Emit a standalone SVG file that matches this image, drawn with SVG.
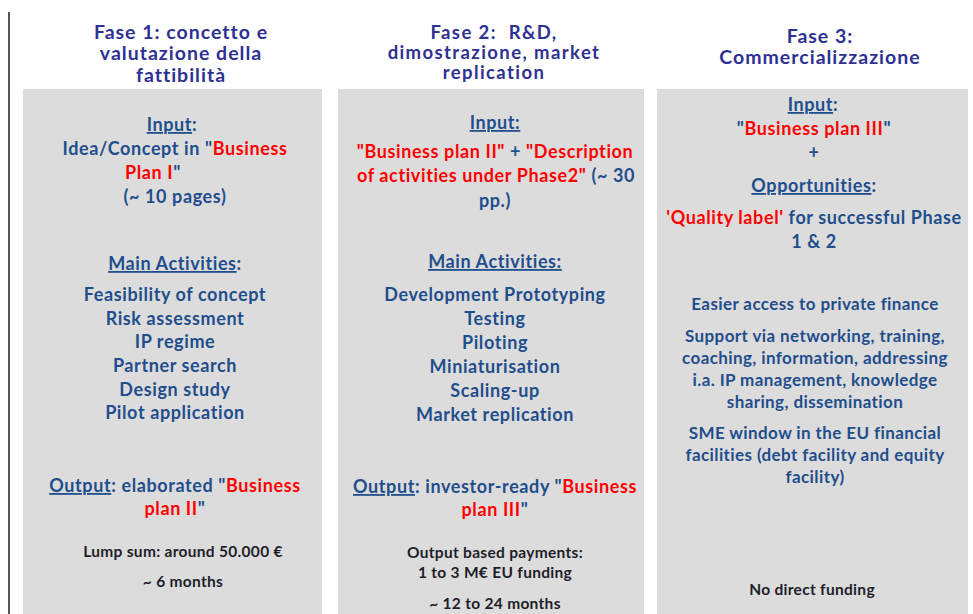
<svg xmlns="http://www.w3.org/2000/svg" width="973" height="614" viewBox="0 0 973 614">
<style>
.panel{fill:#dcdcdc}
.hd{font-family:Lato,"Liberation Sans",sans-serif;font-weight:700;font-size:19.5px;letter-spacing:1px;fill:#2e3192;text-anchor:middle}
.hd2{font-size:18.5px;letter-spacing:1.4px}
.b{font-family:Lato,"Liberation Sans",sans-serif;font-weight:700;font-size:18px;letter-spacing:0.6px;fill:#1f4e8c;text-anchor:middle}
.s{font-family:Lato,"Liberation Sans",sans-serif;font-weight:700;font-size:17px;letter-spacing:0.4px;fill:#1f4e8c;text-anchor:middle}
.k{font-family:Lato,"Liberation Sans",sans-serif;font-weight:700;font-size:15.5px;letter-spacing:0.3px;fill:#1e1e2a;text-anchor:middle}
.r{fill:#ff0000}
.u{text-decoration:underline}
</style>
<rect width="973" height="614" fill="#ffffff"/>
<line x1="9" y1="12" x2="9" y2="614" stroke="#555555" stroke-width="2"/>

<g id="phase1">
<rect class="panel" x="23" y="89" width="299" height="525"/>
<text class="hd" x="181" y="39">Fase 1: concetto e</text>
<text class="hd" x="181" y="60">valutazione della</text>
<text class="hd" x="181" y="82">fattibilità</text>
<text class="b" x="172" y="131"><tspan class="u">Input</tspan>:</text>
<text class="b" x="175" y="155">Idea/Concept in "<tspan class="r">Business</tspan></text>
<text class="b" x="125" y="179" style="text-anchor:start"><tspan class="r">Plan I</tspan>"</text>
<text class="b" x="175" y="203">(~ 10 pages)</text>
<text class="b" x="175" y="270"><tspan class="u">Main Activities</tspan>:</text>
<text class="b" x="175" y="301">Feasibility of concept</text>
<text class="b" x="175" y="325">Risk assessment</text>
<text class="b" x="175" y="348">IP regime</text>
<text class="b" x="175" y="372">Partner search</text>
<text class="b" x="175" y="396">Design study</text>
<text class="b" x="175" y="419">Pilot application</text>
<text class="b" x="175" y="492"><tspan class="u">Output</tspan>: elaborated "<tspan class="r">Business</tspan></text>
<text class="b" x="175" y="515"><tspan class="r">plan II</tspan>"</text>
<text class="k" x="183" y="557">Lump sum: around 50.000 €</text>
<text class="k" x="183" y="587">~ 6 months</text>
</g>

<g id="phase2">
<rect class="panel" x="338" y="89" width="306" height="525"/>
<text class="hd hd2" x="494" y="39" style="white-space:pre">Fase 2:  R&amp;D,</text>
<text class="hd hd2" x="494" y="59">dimostrazione, market</text>
<text class="hd hd2" x="494" y="79">replication</text>
<text class="b" x="495" y="129"><tspan class="u">Input:</tspan></text>
<text class="b" x="495" y="158"><tspan class="r">"Business plan II"</tspan> + <tspan class="r">"Description</tspan></text>
<text class="b" x="496" y="182"><tspan class="r">of activities under Phase2"</tspan> (~ 30</text>
<text class="b" x="495" y="207">pp.)</text>
<text class="b" x="495" y="268"><tspan class="u">Main Activities:</tspan></text>
<text class="b" x="495" y="301">Development Prototyping</text>
<text class="b" x="495" y="325">Testing</text>
<text class="b" x="495" y="349">Piloting</text>
<text class="b" x="495" y="373">Miniaturisation</text>
<text class="b" x="495" y="397">Scaling-up</text>
<text class="b" x="495" y="421">Market replication</text>
<text class="b" x="495" y="493"><tspan class="u">Output</tspan>: investor-ready "<tspan class="r">Business</tspan></text>
<text class="b" x="495" y="516"><tspan class="r">plan III</tspan>"</text>
<text class="k" x="495" y="558">Output based payments:</text>
<text class="k" x="495" y="578">1 to 3 M€ EU funding</text>
<text class="k" x="495" y="609">~ 12 to 24 months</text>
</g>

<g id="phase3">
<rect class="panel" x="657" y="89" width="311" height="525"/>
<text class="hd" x="820" y="43">Fase 3:</text>
<text class="hd" x="820" y="64">Commercializzazione</text>
<text class="b" x="813" y="111"><tspan class="u">Input</tspan>:</text>
<text class="b" x="814" y="135">"<tspan class="r">Business plan III</tspan>"</text>
<text class="b" x="814" y="159">+</text>
<text class="b" x="814" y="192"><tspan class="u">Opportunities</tspan>:</text>
<text class="b" x="814" y="224"><tspan class="r">'Quality label'</tspan> for successful Phase</text>
<text class="b" x="814" y="248">1 &amp; 2</text>
<text class="s" x="815" y="310">Easier access to private finance</text>
<text class="s" x="815" y="342">Support via networking, training,</text>
<text class="s" x="815" y="364">coaching, information, addressing</text>
<text class="s" x="815" y="386">i.a. IP management, knowledge</text>
<text class="s" x="815" y="408">sharing, dissemination</text>
<text class="s" x="815" y="439">SME window in the EU financial</text>
<text class="s" x="815" y="461">facilities (debt facility and equity</text>
<text class="s" x="815" y="483">facility)</text>
<text class="k" x="812" y="595">No direct funding</text>
</g>
</svg>
